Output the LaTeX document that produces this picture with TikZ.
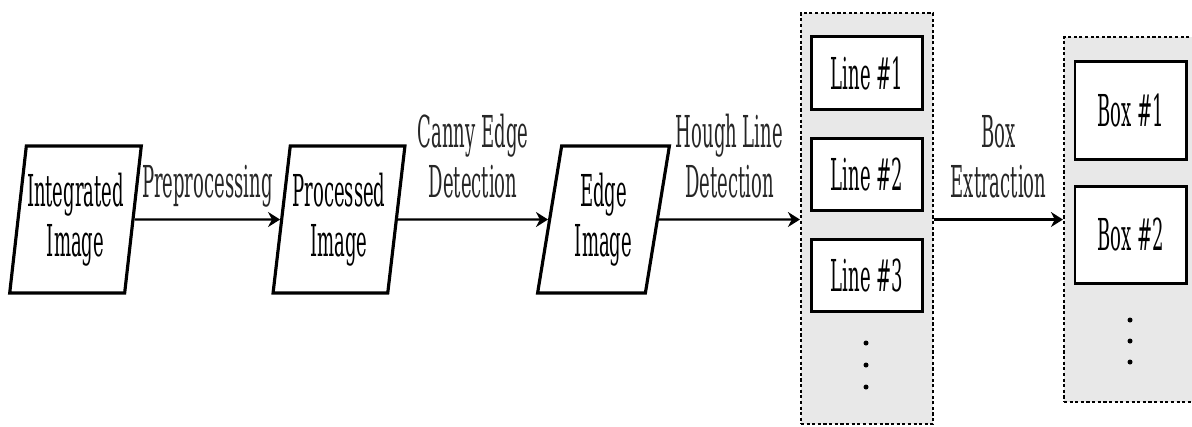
\documentclass[tikz,border=0pt]{standalone}
\usepackage{fontspec}
\setmainfont{DejaVu Serif}[FakeStretch=0.41]
\usetikzlibrary{positioning}
\usetikzlibrary{arrows.meta}
\usetikzlibrary{shapes.geometric}

\tikzset{
  data/.style={draw, line width=0.9pt, trapezium, trapezium left angle=80,
    trapezium right angle=100, trapezium stretches=true,
    minimum width=1.32cm, minimum height=1.47cm, align=center, inner sep=0pt},
  item/.style={draw, line width=0.85pt, fill=white, align=center},
  group/.style={draw, dash pattern=on 0.9pt off 0.7pt, line width=0.6pt, fill=gray!18},
  flow/.style={-{Stealth[length=0.12cm,width=0.15cm]}, line width=0.65pt},
  lbl/.style={align=center, inner sep=0pt, text depth=0pt, text=black!85}
}

\begin{document}
\begin{tikzpicture}[x=0.01cm, y=-0.01cm, font=\fontsize{12.5}{14.2}\selectfont]
\useasboundingbox (0,0) rectangle (1192,426);
\clip (0,0) rectangle (1192,426);
\node[data](integ) at (75.5,219.5){Integrated\\Image};
\node[data](proc) at (339,219.5){Processed\\Image};
\node[data](edgeimg) at (603.5,219.5){Edge\\Image};
% detected lines
\node[group, minimum width=1.32cm, minimum height=4.11cm](lines) at (867,218.5){};
\node[item, minimum width=1.1cm, minimum height=0.72cm](line1) at (867,73){Line \#1};
\node[item, minimum width=1.1cm, minimum height=0.72cm, below = 0.26cm of line1](line2){Line \#2};
\node[item, minimum width=1.1cm, minimum height=0.72cm, below = 0.26cm of line2](line3){Line \#3};
\foreach \y in {343,365,387} \fill (866,\y) circle (0.025cm);
% extracted boxes
\node[group, minimum width=1.36cm, minimum height=3.65cm](boxes) at (1132,219.5){};
\node[item, minimum width=1.11cm, minimum height=0.97cm](box1) at (1130.5,110.5){Box \#1};
\node[item, minimum width=1.11cm, minimum height=0.97cm, below = 0.24cm of box1](box2){Box \#2};
\foreach \y in {320,341,362} \fill (1130,\y) circle (0.025cm);
% steps
\draw[flow] (integ) -- node[lbl, midway, above=6pt]{Preprocessing} (proc);
\draw[flow] (proc) -- node[lbl, midway, above=6pt]{Canny Edge\\Detection} (edgeimg);
\draw[flow] (edgeimg) -- node[lbl, midway, above=6pt]{Hough Line\\Detection} (edgeimg -| lines.west);
\draw[flow] (edgeimg -| lines.east) -- node[lbl, midway, above=6pt]{Box\\Extraction} (edgeimg -| boxes.west);
\end{tikzpicture}
\end{document}
